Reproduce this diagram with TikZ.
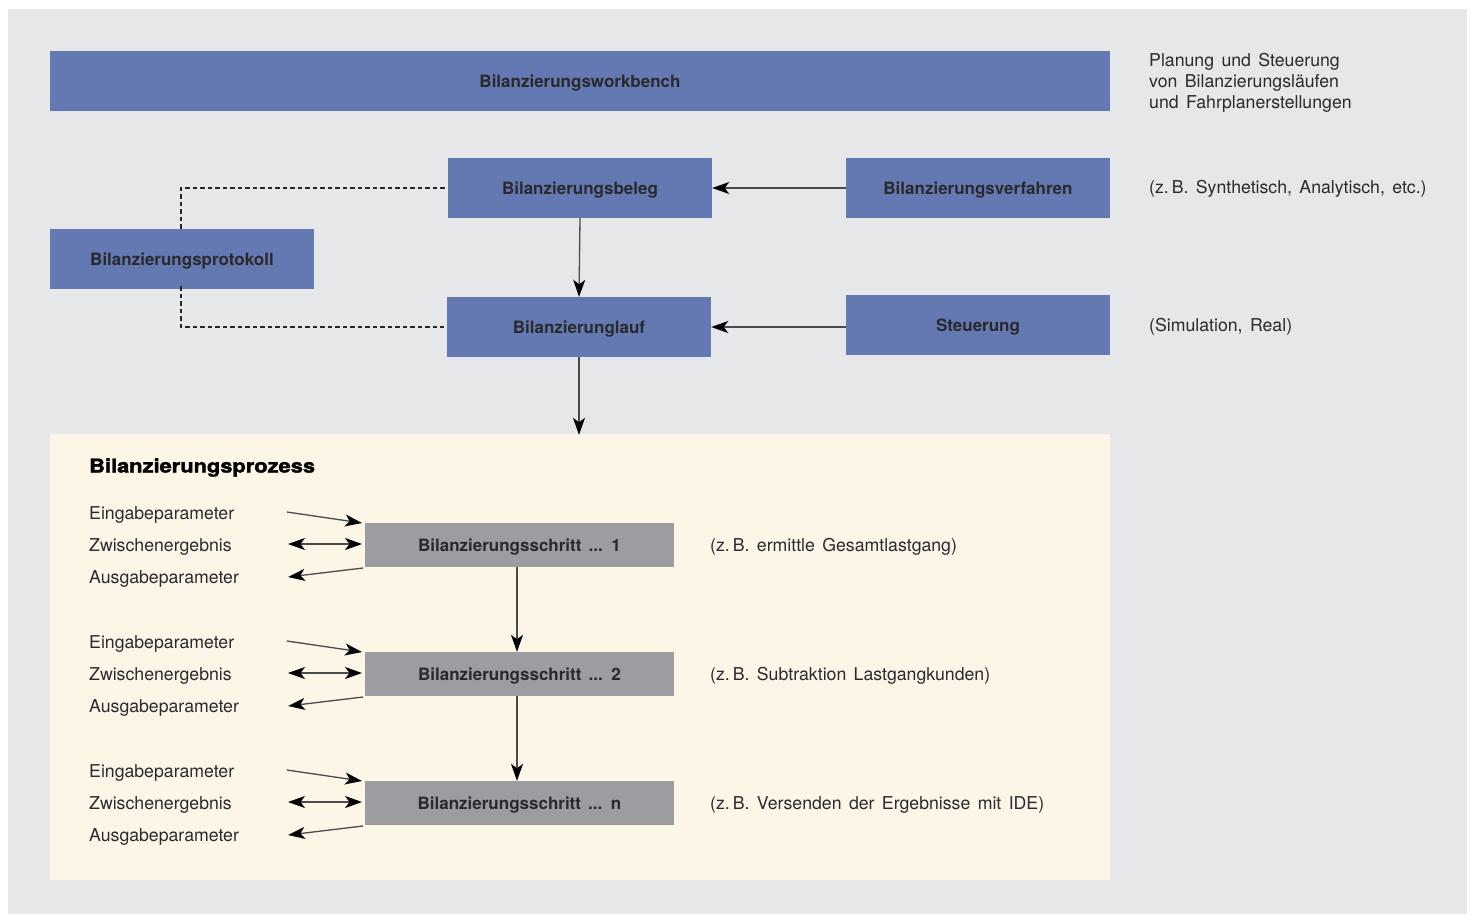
\documentclass[tikz,border=0pt]{standalone}
\usepackage{fontspec}
\setmainfont{TeX Gyre Heros}[WordSpace=1.5]
\newfontfamily\heavyfont{TeX Gyre Heros}[BoldFeatures={FakeBold=1.6}]
\usetikzlibrary{arrows.meta}
\definecolor{bggrey}{HTML}{E6E7E9}
\definecolor{boxblue}{HTML}{6479B2}
\definecolor{beige}{HTML}{FDF5E6}
\definecolor{stepgrey}{HTML}{9C9DA1}
\definecolor{txt}{HTML}{2A2A2E}
\definecolor{linec}{HTML}{4A4A4A}
\begin{document}
\begin{tikzpicture}[x=1pt,y=-1pt,
  bluebox/.style={fill=boxblue,draw=none,minimum width=264pt,minimum height=60pt,inner sep=0pt,text height=12.4pt,text depth=0pt,font=\fontsize{17}{20}\selectfont\bfseries,text=txt},
  stepbox/.style={fill=stepgrey,draw=none,minimum width=309pt,minimum height=44pt,inner sep=0pt,text height=12.4pt,text depth=0pt,font=\fontsize{17}{20}\selectfont\bfseries,text=txt},
  plain/.style={anchor=west,inner sep=0pt,text height=12.6pt,text depth=0pt,font=\fontsize{17.7}{21}\selectfont,text=txt},
  arr/.style={draw=linec,line width=1.3pt,-{Stealth[length=17pt,width=12pt,inset=4.5pt,color=black]}},
  darr/.style={draw=linec,line width=1.3pt,{Stealth[length=17pt,width=12pt,inset=4.5pt,color=black]}-{Stealth[length=17pt,width=12pt,inset=4.5pt,color=black]}},
  dashline/.style={draw=black!85,line width=1.3pt,dash pattern=on 4.5pt off 3pt}]
\useasboundingbox (0,0) rectangle (1471,914);
\fill[white] (0,0) rectangle (1471,914);
\fill[bggrey] (8,9) rectangle (1467,914);

\node[bluebox,minimum width=1060pt] (wb) at (580,81) {Bilanzierungsworkbench};
\node[bluebox] (beleg) at (580,188) {Bilanzierungsbeleg};
\node[bluebox] (verf) at (978,188) {Bilanzierungsverfahren};
\node[bluebox] (prot) at (182,259) {Bilanzierungsprotokoll};
\node[bluebox] (lauf) at (579,327) {Bilanzierunglauf};
\node[bluebox] (steu) at (978,325) {Steuerung};

\node[plain,anchor=north west,align=left,text height=,text depth=] (t1) at (1149,53.5) {Planung und Steuerung\\von Bilanzierungsläufen\\und Fahrplanerstellungen};
\node[plain] (t2) at (1149,187) {(z.\,B. Synthetisch, Analytisch, etc.)};
\node[plain] (t3) at (1149,325) {(Simulation, Real)};

\draw[arr] (verf.west) -- (beleg.east);
\draw[arr] (steu.west |- lauf.east) -- (lauf.east);
\draw[arr] (beleg.south) -- (lauf.north);

\coordinate (d1) at (181,188);
\coordinate (d2) at (181,327);
\draw[dashline] ([xshift=-3pt]beleg.west) -- (d1) -- (prot.north -| d1);
\draw[dashline] ([yshift=3pt]prot.south -| d2) -- (d2) -- ([xshift=-3pt]lauf.west);

\node[fill=beige,draw=none,minimum width=1060pt,minimum height=446pt,inner sep=0pt] (proc) at (580,657) {};
\draw[arr] (lauf.south) -- ([yshift=-1pt]proc.north -| lauf.south);

\node[anchor=west,inner sep=0pt,text height=13pt,text depth=0pt,text=black] (ptitle) at (89,466) {\scalebox{1.15}[1]{\fontsize{19}{20}\selectfont\heavyfont\bfseries Bilanzierungsprozess}};

\foreach \i/\y/\lab/\note in {1/545/1/{(z.\,B. ermittle Gesamtlastgang)},2/674/2/{(z.\,B. Subtraktion Lastgangkunden)},3/803/n/{(z.\,B. Versenden der Ergebnisse mit IDE)}}{
  \node[stepbox] (s\i) at (519.5,\y) {Bilanzierungsschritt ... \lab};
  \node[plain] (n\i) at (710,\y) {\note};
  \node[plain] (e\i) at (89,\y-32) {Eingabeparameter};
  \node[plain] (z\i) at (89,\y) {Zwischenergebnis};
  \node[plain] (a\i) at (89,\y+32) {Ausgabeparameter};
  \coordinate (ea\i) at (287,\y-33);
  \coordinate (eb\i) at (362,\y-22);
  \coordinate (za\i) at (288,\y-1);
  \coordinate (zb\i) at (362,\y-1);
  \coordinate (aa\i) at (363,\y+23);
  \coordinate (ab\i) at (288,\y+32);
  \draw[arr] (ea\i) -- (eb\i);
  \draw[darr] (za\i) -- (zb\i);
  \draw[arr] (aa\i) -- (ab\i);
}
\draw[arr] ([xshift=-2.5pt]s1.south) -- ([xshift=-2.5pt]s2.north);
\draw[arr] ([xshift=-2.5pt]s2.south) -- ([xshift=-2.5pt]s3.north);
\end{tikzpicture}
\end{document}
